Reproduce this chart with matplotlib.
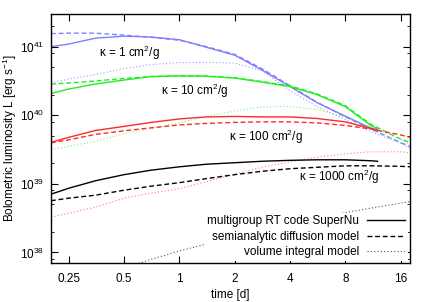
import matplotlib
matplotlib.use("Agg")
import matplotlib.pyplot as plt
from matplotlib.ticker import LogLocator, FixedLocator, FixedFormatter, NullFormatter

plt.rcParams['font.family'] = ['Liberation Sans', 'DejaVu Sans']
plt.rcParams['mathtext.fontset'] = 'custom'
plt.rcParams['mathtext.rm'] = 'Liberation Sans'
plt.rcParams['mathtext.it'] = 'Liberation Sans:italic'
plt.rcParams['font.size'] = 8

# time grid [d]
t_all = [0.2, 0.25, 0.35, 0.5, 0.7, 1, 1.4, 2, 2.8, 4, 5.6, 8, 11, 16, 18]
t_snu = [0.2, 0.25, 0.35, 0.5, 0.7, 1, 1.4, 2, 2.8, 4, 5.6, 8, 11, 12]
t_vol4 = [0.6, 0.7, 1, 1.4, 2, 2.8, 4, 5.6, 8, 11, 16, 18]

# kappa = 1 cm^2/g
snu_k1 = [1.0e41, 1.09e41, 1.33e41, 1.42e41, 1.38e41, 1.26e41, 9.8e40, 7.5e40,
          4.6e40, 2.62e40, 1.53e40, 9.7e39, 6.5e39, 5.9e39]
ana_k1 = [1.55e41, 1.57e41, 1.57e41, 1.47e41, 1.37e41, 1.24e41, 1.0e41, 7.7e40,
          4.8e40, 2.7e40, 1.55e40, 9.5e39, 6.3e39, 4.0e39, 3.5e39]
vol_k1 = [2.97e40, 3.37e40, 3.92e40, 4.79e40, 5.47e40, 5.85e40, 5.9e40, 5.75e40,
          4.48e40, 2.29e40, 1.34e40, 8.7e39, 5.8e39, 3.9e39, 3.3e39]

# kappa = 10 cm^2/g
snu_k2 = [2.07e40, 2.41e40, 2.85e40, 3.26e40, 3.66e40, 3.75e40, 3.7e40, 3.48e40,
          3.05e40, 2.62e40, 2.0e40, 1.34e40, 7.1e39, 6.3e39]
ana_k2 = [2.85e40, 2.95e40, 3.16e40, 3.43e40, 3.66e40, 3.75e40, 3.72e40, 3.52e40,
          3.1e40, 2.68e40, 2.05e40, 1.38e40, 7.4e39, 4.5e39, 4.0e39]
vol_k2 = [3.18e39, 3.52e39, 4.16e39, 5.35e39, 6.43e39, 7.7e39, 9.6e39, 1.15e40,
          1.32e40, 1.34e40, 1.21e40, 9.4e39, 6.65e39, 4.45e39, 3.77e39]

# kappa = 100 cm^2/g
snu_k3 = [4.03e39, 4.76e39, 6.0e39, 6.87e39, 7.85e39, 8.83e39, 9.44e39, 9.6e39,
          9.44e39, 9.44e39, 8.97e39, 8.0e39, 6.43e39, 6.1e39]
ana_k3 = [3.95e39, 4.38e39, 5.26e39, 5.92e39, 6.54e39, 7.22e39, 7.6e39, 7.86e39,
          8.0e39, 8.0e39, 7.73e39, 7.1e39, 6.31e39, 5.17e39, 4.75e39]
vol_k3 = [3.27e38, 3.74e38, 4.57e38, 6.17e38, 7.3e38, 8.49e38, 1.07e39, 1.38e39,
          1.74e39, 2.09e39, 2.44e39, 2.74e39, 2.93e39, 2.93e39, 2.83e39]

# kappa = 1000 cm^2/g
snu_k4 = [7.06e38, 8.63e38, 1.11e39, 1.36e39, 1.58e39, 1.77e39, 1.93e39, 2.03e39,
          2.13e39, 2.2e39, 2.24e39, 2.24e39, 2.17e39, 2.13e39]
ana_k4 = [5.67e38, 6.18e38, 6.83e38, 8.07e38, 9.23e38, 1.04e39, 1.19e39, 1.36e39,
          1.52e39, 1.66e39, 1.74e39, 1.83e39, 1.83e39, 1.8e39, 1.77e39]
vol_k4 = [6.9e37, 7.9e37, 1.05e38, 1.32e38, 1.67e38, 2.08e38, 2.59e38, 3.11e38,
          3.8e38, 4.42e38, 5.22e38, 5.5e38]

x_ticks = [0.25, 0.5, 1, 2, 4, 8, 16]
x_labels = ['0.25', '0.5', '1', '2', '4', '8', '16']

fig = plt.figure(figsize=(4.32, 3.02), dpi=100)
ax = fig.add_axes([0.118, 0.129, 0.831, 0.825])

col1 = '#8080ff'
col2 = '#22ee22'
col3 = '#ff2a2a'
col4 = '#000000'
lw = 1.0
dash = (3.5, 2)
dot = (1, 2)

ax.plot(t_snu, snu_k1, color=col1, lw=lw)
ax.plot(t_all, ana_k1, color=col1, lw=lw, dashes=dash)
ax.plot(t_all, vol_k1, color=col1, lw=0.8, dashes=dot, alpha=0.8)

ax.plot(t_snu, snu_k2, color=col2, lw=lw)
ax.plot(t_all, ana_k2, color=col2, lw=lw, dashes=dash)
ax.plot(t_all, vol_k2, color=col2, lw=0.8, dashes=dot, alpha=0.6)

ax.plot(t_snu, snu_k3, color=col3, lw=lw)
ax.plot(t_all, ana_k3, color=col3, lw=lw, dashes=dash)
ax.plot(t_all, vol_k3, color=col3, lw=0.8, dashes=dot, alpha=0.6)

l1, = ax.plot(t_snu, snu_k4, color=col4, lw=lw)
l2, = ax.plot(t_all, ana_k4, color=col4, lw=lw, dashes=dash)
l3, = ax.plot(t_vol4, vol_k4, color='#555555', lw=0.8, dashes=dot)

ax.text(0.533, 8.2e40, r'κ = 1 cm$^2$/g', ha='center', va='center', fontsize=8.5)
ax.text(1.215, 2.3e40, r'κ = 10 cm$^2$/g', ha='center', va='center', fontsize=8.5)
ax.text(2.97, 4.75e39, r'κ = 100 cm$^2$/g', ha='center', va='center', fontsize=8.5)
ax.text(7.37, 1.27e39, r'κ = 1000 cm$^2$/g', ha='center', va='center', fontsize=8.5)

ax.set_xscale('log')
ax.set_yscale('log')
ax.set_xlim(0.2, 18)
ax.set_ylim(7e37, 3e41)

ax.xaxis.set_major_locator(FixedLocator(x_ticks))
ax.xaxis.set_major_formatter(FixedFormatter(x_labels))
ax.xaxis.set_minor_locator(FixedLocator([]))
ax.yaxis.set_major_locator(LogLocator(base=10, numticks=10))
ax.yaxis.set_minor_locator(LogLocator(base=10, subs=[2, 5, 8], numticks=10))
ax.yaxis.set_minor_formatter(NullFormatter())

ax.tick_params(which='both', direction='in', top=True, right=True, labelsize=8.5)
ax.tick_params(which='major', length=5, width=0.8)
ax.tick_params(which='minor', length=2.5, width=0.6)
ax.tick_params(axis='y', pad=5)
ax.tick_params(axis='x', pad=7)
for s in ax.spines.values():
    s.set_linewidth(1.0)

ax.set_xlabel('time [d]', fontsize=8.5, labelpad=3)
ax.set_ylabel(r'Bolometric luminosity L [erg s$^{-1}$]', fontsize=8.5)
ax.yaxis.set_label_coords(-0.09, 0.5)

leg = ax.legend([l1, l2, l3],
                ['multigroup RT code SuperNu', 'semianalytic diffusion model',
                 'volume integral model'],
                loc='lower right', markerfirst=False, handlelength=3.2,
                labelspacing=0.3, fontsize=8.5, frameon=True, fancybox=False,
                borderaxespad=0.2, borderpad=0.2, handletextpad=0.7)
leg.get_frame().set_edgecolor('none')
leg.get_frame().set_facecolor('white')
leg.get_frame().set_alpha(1)
for t in leg.get_texts():
    t.set_ha('right')

fig.savefig('out.png', dpi=100)
